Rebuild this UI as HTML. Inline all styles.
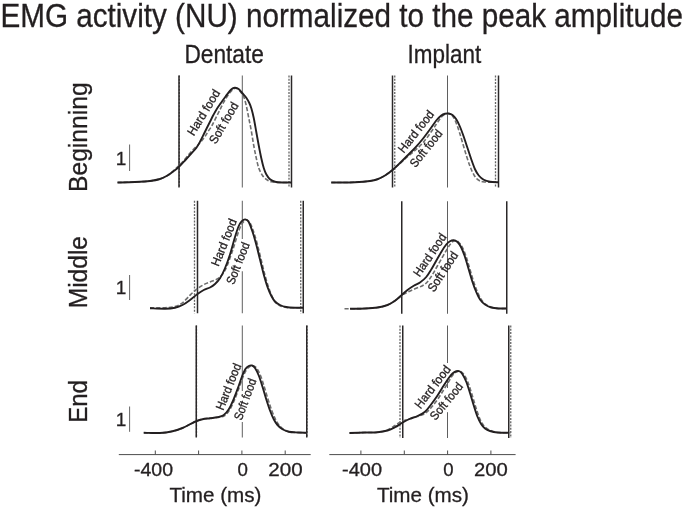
<!DOCTYPE html>
<html><head><meta charset="utf-8"><title>EMG activity</title>
<style>
html,body{margin:0;padding:0;background:#fff;}
body{width:685px;height:508px;overflow:hidden;}
svg{display:block;font-family:"Liberation Sans",sans-serif;will-change:transform;}
text{stroke:#231f20;stroke-width:0.3px;}
</style></head><body>
<svg width="685" height="508" viewBox="0 0 685 508">
<rect width="685" height="508" fill="#ffffff"/>
<text x="0.4" y="26.85" font-size="32.4" textLength="682.6" lengthAdjust="spacingAndGlyphs" fill="#231f20">EMG activity (NU) normalized to the peak amplitude</text>
<text x="184.4" y="63.0" font-size="25.8" textLength="79.5" lengthAdjust="spacingAndGlyphs" fill="#231f20">Dentate</text>
<text x="407.6" y="63.45" font-size="25.6" textLength="73.7" lengthAdjust="spacingAndGlyphs" fill="#231f20">Implant</text>
<text transform="translate(86.65,192.00) rotate(-90)" font-size="26" textLength="109.6" lengthAdjust="spacingAndGlyphs" fill="#231f20">Beginning</text>
<text transform="translate(86.65,308.30) rotate(-90)" font-size="26" textLength="72.3" lengthAdjust="spacingAndGlyphs" fill="#231f20">Middle</text>
<text transform="translate(86.65,422.80) rotate(-90)" font-size="26" textLength="42.8" lengthAdjust="spacingAndGlyphs" fill="#231f20">End</text>

<line x1="129.6" x2="129.6" y1="144.50" y2="171.00" stroke="#666" stroke-width="1"/>
<text x="115.7" y="164.60" font-size="19" fill="#231f20">1</text>
<line x1="129.6" x2="129.6" y1="275.00" y2="300.00" stroke="#666" stroke-width="1"/>
<text x="115.7" y="294.40" font-size="19" fill="#231f20">1</text>
<line x1="129.6" x2="129.6" y1="406.50" y2="431.80" stroke="#666" stroke-width="1"/>
<text x="115.7" y="425.60" font-size="19" fill="#231f20">1</text>

<g id="p1">
<line x1="242.30" x2="242.30" y1="75.50" y2="187.50" stroke="#4d4d4d" stroke-width="0.9"/>
<line x1="179.30" x2="179.30" y1="75.50" y2="187.50" stroke="#666" stroke-width="1.3" stroke-dasharray="2.0,1.3"/>
<line x1="289.00" x2="289.00" y1="75.50" y2="187.50" stroke="#666" stroke-width="1.3" stroke-dasharray="2.0,1.3"/>
<line x1="179.00" x2="179.00" y1="75.50" y2="187.50" stroke="#2b2829" stroke-width="1.5"/>
<line x1="291.50" x2="291.50" y1="75.50" y2="187.50" stroke="#2b2829" stroke-width="1.5"/>
<path d="M117.50,182.50 C120.42,182.42 129.58,182.25 135.00,182.00 C140.42,181.75 145.83,181.50 150.00,181.00 C154.17,180.50 157.08,179.92 160.00,179.00 C162.92,178.08 165.21,176.92 167.50,175.50 C169.79,174.08 171.83,172.17 173.75,170.50 C175.67,168.83 177.46,167.00 179.00,165.50 C180.54,164.00 181.38,163.33 183.00,161.50 C184.62,159.67 186.96,156.58 188.75,154.50 C190.54,152.42 192.21,150.58 193.75,149.00 C195.29,147.42 196.71,146.33 198.00,145.00 C199.29,143.67 200.33,142.42 201.50,141.00 C202.67,139.58 203.92,138.07 205.00,136.50 C206.08,134.93 206.87,133.37 208.00,131.60 C209.13,129.83 210.77,127.63 211.80,125.90 C212.83,124.17 213.20,123.18 214.20,121.20 C215.20,119.22 216.68,116.23 217.80,114.00 C218.92,111.77 219.88,109.82 220.90,107.80 C221.92,105.78 222.92,103.68 223.90,101.90 C224.88,100.12 225.78,98.67 226.80,97.10 C227.82,95.53 229.00,93.75 230.00,92.50 C231.00,91.25 231.92,90.30 232.80,89.60 C233.68,88.90 234.35,88.32 235.30,88.30 C236.25,88.28 237.42,88.63 238.50,89.50 C239.58,90.37 240.93,92.29 241.80,93.50 C242.68,94.71 243.01,94.75 243.75,96.75 C244.49,98.75 245.42,101.96 246.25,105.50 C247.08,109.04 247.92,113.83 248.75,118.00 C249.58,122.17 250.42,125.92 251.25,130.50 C252.08,135.08 252.92,140.92 253.75,145.50 C254.58,150.08 255.42,154.25 256.25,158.00 C257.08,161.75 257.71,165.08 258.75,168.00 C259.79,170.92 261.25,173.62 262.50,175.50 C263.75,177.38 264.79,178.21 266.25,179.25 C267.71,180.29 268.96,181.21 271.25,181.75 C273.54,182.29 277.04,182.38 280.00,182.50 C282.96,182.62 287.50,182.50 289.00,182.50" fill="none" stroke="#6e6e6e" stroke-width="1.6" stroke-dasharray="4.2,2"/>
<path d="M117.50,182.50 C120.42,182.42 129.58,182.25 135.00,182.00 C140.42,181.75 145.83,181.50 150.00,181.00 C154.17,180.50 157.08,179.92 160.00,179.00 C162.92,178.08 165.21,176.83 167.50,175.50 C169.79,174.17 171.83,172.46 173.75,171.00 C175.67,169.54 177.12,168.50 179.00,166.75 C180.88,165.00 182.96,162.71 185.00,160.50 C187.04,158.29 189.38,155.58 191.25,153.50 C193.12,151.42 194.79,149.96 196.25,148.00 C197.71,146.04 198.54,144.46 200.00,141.75 C201.46,139.04 203.33,135.08 205.00,131.75 C206.67,128.42 208.58,124.58 210.00,121.75 C211.42,118.92 212.37,116.94 213.50,114.80 C214.63,112.66 215.57,110.87 216.80,108.90 C218.03,106.93 219.43,105.07 220.90,103.00 C222.37,100.93 224.12,98.53 225.60,96.50 C227.08,94.47 228.62,92.15 229.80,90.80 C230.98,89.45 231.82,88.90 232.70,88.40 C233.58,87.90 234.12,87.70 235.10,87.80 C236.08,87.90 237.42,88.13 238.60,89.00 C239.78,89.87 240.92,91.55 242.20,93.00 C243.48,94.45 245.12,96.03 246.30,97.70 C247.48,99.37 248.45,101.20 249.30,103.00 C250.15,104.80 250.66,106.00 251.40,108.50 C252.14,111.00 252.94,114.12 253.75,118.00 C254.56,121.88 255.42,127.17 256.25,131.75 C257.08,136.33 257.92,141.12 258.75,145.50 C259.58,149.88 260.42,154.25 261.25,158.00 C262.08,161.75 262.92,165.29 263.75,168.00 C264.58,170.71 265.21,172.38 266.25,174.25 C267.29,176.12 268.54,178.00 270.00,179.25 C271.46,180.50 272.92,181.21 275.00,181.75 C277.08,182.29 279.75,182.38 282.50,182.50 C285.25,182.62 290.00,182.50 291.50,182.50" fill="none" stroke="#231f20" stroke-width="1.9" stroke-linejoin="round"/>
<text transform="translate(193.80,136.50) rotate(-58.5)" font-size="12.3" textLength="51.3" lengthAdjust="spacingAndGlyphs" fill="#231f20" stroke="#231f20" stroke-width="0.25">Hard food</text>
<text transform="translate(215.80,144.80) rotate(-59.8)" font-size="12.3" textLength="45.9" lengthAdjust="spacingAndGlyphs" fill="#231f20" stroke="#231f20" stroke-width="0.25">Soft food</text>
</g>
<g id="p2">
<line x1="447.50" x2="447.50" y1="75.50" y2="187.50" stroke="#4d4d4d" stroke-width="0.9"/>
<line x1="394.75" x2="394.75" y1="75.50" y2="187.50" stroke="#666" stroke-width="1.3" stroke-dasharray="2.0,1.3"/>
<line x1="495.50" x2="495.50" y1="75.50" y2="187.50" stroke="#666" stroke-width="1.3" stroke-dasharray="2.0,1.3"/>
<line x1="392.50" x2="392.50" y1="75.50" y2="187.50" stroke="#2b2829" stroke-width="1.5"/>
<line x1="498.50" x2="498.50" y1="75.50" y2="187.50" stroke="#2b2829" stroke-width="1.5"/>
<path d="M331.25,182.50 C332.71,182.50 336.04,182.54 340.00,182.50 C343.96,182.46 350.00,182.50 355.00,182.25 C360.00,182.00 366.25,181.50 370.00,181.00 C373.75,180.50 375.00,180.17 377.50,179.25 C380.00,178.33 382.50,177.04 385.00,175.50 C387.50,173.96 390.00,172.00 392.50,170.00 C395.00,168.00 397.50,165.71 400.00,163.50 C402.50,161.29 405.00,158.92 407.50,156.75 C410.00,154.58 412.50,152.75 415.00,150.50 C417.50,148.25 420.00,146.08 422.50,143.25 C425.00,140.42 427.71,136.67 430.00,133.50 C432.29,130.33 434.38,126.96 436.25,124.25 C438.12,121.54 439.79,118.92 441.25,117.25 C442.71,115.58 443.75,114.83 445.00,114.25 C446.25,113.67 447.58,113.58 448.75,113.75 C449.92,113.92 450.88,114.00 452.00,115.25 C453.12,116.50 454.29,118.50 455.50,121.25 C456.71,124.00 458.00,127.92 459.25,131.75 C460.50,135.58 461.75,140.08 463.00,144.25 C464.25,148.42 465.50,152.88 466.75,156.75 C468.00,160.62 469.25,164.38 470.50,167.50 C471.75,170.62 473.00,173.46 474.25,175.50 C475.50,177.54 476.54,178.71 478.00,179.75 C479.46,180.79 480.08,181.33 483.00,181.75 C485.92,182.17 493.42,182.17 495.50,182.25" fill="none" stroke="#6e6e6e" stroke-width="1.6" stroke-dasharray="4.2,2"/>
<path d="M331.25,182.50 C332.71,182.50 336.04,182.54 340.00,182.50 C343.96,182.46 350.00,182.50 355.00,182.25 C360.00,182.00 366.25,181.50 370.00,181.00 C373.75,180.50 375.00,180.17 377.50,179.25 C380.00,178.33 382.50,177.04 385.00,175.50 C387.50,173.96 390.00,172.08 392.50,170.00 C395.00,167.92 397.50,165.42 400.00,163.00 C402.50,160.58 405.00,158.00 407.50,155.50 C410.00,153.00 412.50,150.71 415.00,148.00 C417.50,145.29 420.00,142.38 422.50,139.25 C425.00,136.12 427.71,132.38 430.00,129.25 C432.29,126.12 434.38,122.79 436.25,120.50 C438.12,118.21 439.79,116.62 441.25,115.50 C442.71,114.38 443.75,114.08 445.00,113.75 C446.25,113.42 447.50,113.29 448.75,113.50 C450.00,113.71 451.25,114.04 452.50,115.00 C453.75,115.96 455.00,117.29 456.25,119.25 C457.50,121.21 458.75,123.83 460.00,126.75 C461.25,129.67 462.50,133.21 463.75,136.75 C465.00,140.29 466.25,144.25 467.50,148.00 C468.75,151.75 470.00,155.71 471.25,159.25 C472.50,162.79 473.75,166.54 475.00,169.25 C476.25,171.96 477.29,173.75 478.75,175.50 C480.21,177.25 481.88,178.71 483.75,179.75 C485.62,180.79 487.54,181.33 490.00,181.75 C492.46,182.17 497.08,182.17 498.50,182.25" fill="none" stroke="#231f20" stroke-width="1.9" stroke-linejoin="round"/>
<text transform="translate(403.80,153.70) rotate(-51.7)" font-size="12.3" textLength="50.0" lengthAdjust="spacingAndGlyphs" fill="#231f20" stroke="#231f20" stroke-width="0.25">Hard food</text>
<text transform="translate(415.50,168.20) rotate(-51.3)" font-size="12.3" textLength="44.1" lengthAdjust="spacingAndGlyphs" fill="#231f20" stroke="#231f20" stroke-width="0.25">Soft food</text>
</g>
<g id="p3">
<line x1="242.30" x2="242.30" y1="200.75" y2="239.00" stroke="#4d4d4d" stroke-width="0.9"/>
<line x1="242.30" x2="242.30" y1="271.25" y2="313.25" stroke="#4d4d4d" stroke-width="0.9"/>
<line x1="194.50" x2="194.50" y1="200.75" y2="313.25" stroke="#666" stroke-width="1.3" stroke-dasharray="2.0,1.3"/>
<line x1="300.75" x2="300.75" y1="200.75" y2="313.25" stroke="#666" stroke-width="1.3" stroke-dasharray="2.0,1.3"/>
<line x1="197.50" x2="197.50" y1="200.75" y2="313.25" stroke="#2b2829" stroke-width="1.5"/>
<line x1="303.25" x2="303.25" y1="200.75" y2="313.25" stroke="#2b2829" stroke-width="1.5"/>
<path d="M150.00,307.75 C152.50,307.75 160.83,307.96 165.00,307.75 C169.17,307.54 172.08,307.32 175.00,306.50 C177.92,305.68 180.00,304.68 182.50,302.80 C185.00,300.92 187.71,297.40 190.00,295.20 C192.29,293.00 193.96,291.37 196.25,289.60 C198.54,287.83 201.46,285.87 203.75,284.60 C206.04,283.33 207.92,282.85 210.00,282.00 C212.08,281.15 214.50,280.42 216.25,279.50 C218.00,278.58 219.24,277.67 220.50,276.50 C221.76,275.33 222.75,274.17 223.80,272.50 C224.85,270.83 225.80,268.83 226.80,266.50 C227.80,264.17 228.83,261.17 229.80,258.50 C230.77,255.83 231.73,253.08 232.60,250.50 C233.47,247.92 234.22,245.50 235.00,243.00 C235.78,240.50 236.52,237.92 237.30,235.50 C238.08,233.08 238.83,230.58 239.70,228.50 C240.57,226.42 241.45,224.42 242.50,223.00 C243.55,221.58 244.78,220.08 246.00,220.00 C247.22,219.92 248.52,220.50 249.80,222.50 C251.08,224.50 252.43,228.33 253.70,232.00 C254.97,235.67 256.17,239.92 257.40,244.50 C258.63,249.08 259.87,254.50 261.10,259.50 C262.33,264.50 263.60,270.00 264.80,274.50 C266.00,279.00 267.17,283.03 268.30,286.50 C269.43,289.97 270.48,292.75 271.60,295.30 C272.72,297.85 273.60,300.05 275.00,301.80 C276.40,303.55 278.08,304.85 280.00,305.80 C281.92,306.75 284.00,307.18 286.50,307.50 C289.00,307.82 292.62,307.71 295.00,307.75 C297.38,307.79 299.79,307.75 300.75,307.75" fill="none" stroke="#6e6e6e" stroke-width="1.6" stroke-dasharray="4.2,2"/>
<path d="M150.00,308.25 C152.50,308.33 160.83,308.83 165.00,308.75 C169.17,308.67 172.08,308.38 175.00,307.75 C177.92,307.12 180.00,306.29 182.50,305.00 C185.00,303.71 187.50,301.83 190.00,300.00 C192.50,298.17 195.21,295.67 197.50,294.00 C199.79,292.33 201.67,291.08 203.75,290.00 C205.83,288.92 208.12,288.50 210.00,287.50 C211.88,286.50 213.33,285.54 215.00,284.00 C216.67,282.46 218.33,280.88 220.00,278.25 C221.67,275.62 223.33,272.21 225.00,268.25 C226.67,264.29 228.33,259.71 230.00,254.50 C231.67,249.29 233.58,241.67 235.00,237.00 C236.42,232.33 237.40,229.10 238.50,226.50 C239.60,223.90 240.48,222.58 241.60,221.40 C242.72,220.22 244.03,219.33 245.20,219.40 C246.37,219.47 247.37,219.70 248.60,221.80 C249.83,223.90 251.32,228.22 252.60,232.00 C253.88,235.78 255.02,239.92 256.25,244.50 C257.48,249.08 258.75,254.50 260.00,259.50 C261.25,264.50 262.50,269.92 263.75,274.50 C265.00,279.08 266.25,283.46 267.50,287.00 C268.75,290.54 270.00,293.33 271.25,295.75 C272.50,298.17 273.54,299.96 275.00,301.50 C276.46,303.04 278.12,304.08 280.00,305.00 C281.88,305.92 283.75,306.54 286.25,307.00 C288.75,307.46 292.17,307.62 295.00,307.75 C297.83,307.88 301.88,307.75 303.25,307.75" fill="none" stroke="#231f20" stroke-width="1.9" stroke-linejoin="round"/>
<text transform="translate(218.60,267.10) rotate(-68.0)" font-size="12.3" textLength="49.7" lengthAdjust="spacingAndGlyphs" fill="#231f20" stroke="#231f20" stroke-width="0.25">Hard food</text>
<text transform="translate(233.80,285.30) rotate(-68.5)" font-size="12.3" textLength="44.0" lengthAdjust="spacingAndGlyphs" fill="#231f20" stroke="#231f20" stroke-width="0.25">Soft food</text>
</g>
<g id="p4">
<line x1="447.50" x2="447.50" y1="201.25" y2="313.75" stroke="#4d4d4d" stroke-width="0.9"/>
<line x1="401.75" x2="401.75" y1="201.25" y2="313.75" stroke="#2b2829" stroke-width="1.5"/>
<line x1="506.75" x2="506.75" y1="201.25" y2="313.75" stroke="#2b2829" stroke-width="1.5"/>
<path d="M344.50,308.75 C347.92,308.71 359.50,308.71 365.00,308.50 C370.50,308.29 373.75,308.08 377.50,307.50 C381.25,306.92 384.58,306.12 387.50,305.00 C390.42,303.88 392.62,302.33 395.00,300.75 C397.38,299.17 399.67,296.92 401.75,295.50 C403.83,294.08 405.29,293.38 407.50,292.25 C409.71,291.12 412.50,289.83 415.00,288.75 C417.50,287.67 420.42,286.92 422.50,285.75 C424.58,284.58 425.83,283.62 427.50,281.75 C429.17,279.88 430.83,277.17 432.50,274.50 C434.17,271.83 435.83,268.67 437.50,265.75 C439.17,262.83 440.92,259.75 442.50,257.00 C444.08,254.25 445.62,251.46 447.00,249.25 C448.38,247.04 449.54,245.17 450.75,243.75 C451.96,242.33 453.00,241.08 454.25,240.75 C455.50,240.42 456.88,240.62 458.25,241.75 C459.62,242.88 461.17,244.96 462.50,247.50 C463.83,250.04 465.00,253.33 466.25,257.00 C467.50,260.67 468.75,265.33 470.00,269.50 C471.25,273.67 472.50,278.25 473.75,282.00 C475.00,285.75 476.25,289.08 477.50,292.00 C478.75,294.92 479.79,297.38 481.25,299.50 C482.71,301.62 484.38,303.42 486.25,304.75 C488.12,306.08 490.42,306.88 492.50,307.50 C494.58,308.12 496.38,308.33 498.75,308.50 C501.12,308.67 505.42,308.50 506.75,308.50" fill="none" stroke="#6e6e6e" stroke-width="1.6" stroke-dasharray="4.2,2"/>
<path d="M350.00,308.75 C352.50,308.71 360.42,308.71 365.00,308.50 C369.58,308.29 373.75,308.08 377.50,307.50 C381.25,306.92 384.58,306.12 387.50,305.00 C390.42,303.88 392.62,302.42 395.00,300.75 C397.38,299.08 399.67,296.79 401.75,295.00 C403.83,293.21 405.50,291.54 407.50,290.00 C409.50,288.46 411.67,287.00 413.75,285.75 C415.83,284.50 417.92,283.96 420.00,282.50 C422.08,281.04 424.38,279.17 426.25,277.00 C428.12,274.83 429.58,272.21 431.25,269.50 C432.92,266.79 434.58,263.67 436.25,260.75 C437.92,257.83 439.58,254.71 441.25,252.00 C442.92,249.29 444.79,246.29 446.25,244.50 C447.71,242.71 448.75,241.96 450.00,241.25 C451.25,240.54 452.50,240.12 453.75,240.25 C455.00,240.38 456.25,240.79 457.50,242.00 C458.75,243.21 460.00,245.00 461.25,247.50 C462.50,250.00 463.75,253.33 465.00,257.00 C466.25,260.67 467.50,265.33 468.75,269.50 C470.00,273.67 471.25,278.25 472.50,282.00 C473.75,285.75 475.00,289.08 476.25,292.00 C477.50,294.92 478.54,297.42 480.00,299.50 C481.46,301.58 483.12,303.17 485.00,304.50 C486.88,305.83 488.96,306.83 491.25,307.50 C493.54,308.17 496.17,308.33 498.75,308.50 C501.33,308.67 505.42,308.50 506.75,308.50" fill="none" stroke="#231f20" stroke-width="1.9" stroke-linejoin="round"/>
<text transform="translate(419.59,277.54) rotate(-55.9)" font-size="12.3" textLength="49.0" lengthAdjust="spacingAndGlyphs" fill="#231f20" stroke="#231f20" stroke-width="0.25">Hard food</text>
<text transform="translate(433.91,292.81) rotate(-56.7)" font-size="12.3" textLength="45.3" lengthAdjust="spacingAndGlyphs" fill="#231f20" stroke="#231f20" stroke-width="0.25">Soft food</text>
</g>
<g id="p5">
<line x1="242.30" x2="242.30" y1="325.50" y2="391.00" stroke="#4d4d4d" stroke-width="0.9"/>
<line x1="242.30" x2="242.30" y1="422.00" y2="437.50" stroke="#4d4d4d" stroke-width="0.9"/>
<line x1="196.50" x2="196.50" y1="325.50" y2="437.50" stroke="#666" stroke-width="1.3" stroke-dasharray="2.0,1.3"/>
<line x1="307.00" x2="307.00" y1="325.50" y2="437.50" stroke="#666" stroke-width="1.3" stroke-dasharray="2.0,1.3"/>
<line x1="196.25" x2="196.25" y1="325.50" y2="437.50" stroke="#2b2829" stroke-width="1.5"/>
<line x1="306.75" x2="306.75" y1="325.50" y2="437.50" stroke="#2b2829" stroke-width="1.5"/>
<path d="M143.75,432.75 C146.46,432.79 155.21,433.25 160.00,433.00 C164.79,432.75 168.75,432.08 172.50,431.25 C176.25,430.42 179.58,429.17 182.50,428.00 C185.42,426.83 187.71,425.38 190.00,424.25 C192.29,423.12 194.17,422.08 196.25,421.25 C198.33,420.42 200.21,419.75 202.50,419.25 C204.79,418.75 207.50,418.58 210.00,418.25 C212.50,417.92 215.12,417.66 217.50,417.25 C219.88,416.84 222.25,417.07 224.30,415.80 C226.35,414.53 228.08,412.30 229.80,409.60 C231.52,406.90 233.00,403.35 234.60,399.60 C236.20,395.85 238.02,390.83 239.40,387.10 C240.78,383.37 241.75,380.05 242.90,377.20 C244.05,374.35 245.16,371.78 246.30,370.00 C247.44,368.22 248.68,367.21 249.75,366.50 C250.82,365.79 251.62,365.50 252.75,365.75 C253.88,366.00 255.21,366.38 256.50,368.00 C257.79,369.62 259.21,372.38 260.50,375.50 C261.79,378.62 263.00,382.79 264.25,386.75 C265.50,390.71 266.75,395.29 268.00,399.25 C269.25,403.21 270.50,407.17 271.75,410.50 C273.00,413.83 274.29,416.83 275.50,419.25 C276.71,421.67 277.67,423.33 279.00,425.00 C280.33,426.67 281.79,428.12 283.50,429.25 C285.21,430.38 286.92,431.21 289.25,431.75 C291.58,432.29 294.58,432.33 297.50,432.50 C300.42,432.67 305.21,432.71 306.75,432.75" fill="none" stroke="#6e6e6e" stroke-width="1.6" stroke-dasharray="4.2,2"/>
<path d="M143.75,432.75 C146.46,432.79 155.21,433.25 160.00,433.00 C164.79,432.75 168.75,432.08 172.50,431.25 C176.25,430.42 179.58,429.17 182.50,428.00 C185.42,426.83 187.71,425.38 190.00,424.25 C192.29,423.12 194.17,422.08 196.25,421.25 C198.33,420.42 200.21,419.75 202.50,419.25 C204.79,418.75 207.50,418.58 210.00,418.25 C212.50,417.92 215.25,417.74 217.50,417.25 C219.75,416.76 221.62,416.63 223.50,415.30 C225.38,413.97 227.12,411.93 228.80,409.25 C230.48,406.57 232.00,403.00 233.60,399.25 C235.20,395.50 237.02,390.50 238.40,386.75 C239.78,383.00 240.76,379.67 241.90,376.75 C243.04,373.83 244.11,371.04 245.25,369.25 C246.39,367.46 247.62,366.62 248.75,366.00 C249.88,365.38 250.96,365.17 252.00,365.50 C253.04,365.83 253.88,366.33 255.00,368.00 C256.12,369.67 257.50,372.38 258.75,375.50 C260.00,378.62 261.25,382.79 262.50,386.75 C263.75,390.71 265.00,395.29 266.25,399.25 C267.50,403.21 268.75,407.17 270.00,410.50 C271.25,413.83 272.50,416.83 273.75,419.25 C275.00,421.67 276.04,423.33 277.50,425.00 C278.96,426.67 280.62,428.12 282.50,429.25 C284.38,430.38 286.25,431.21 288.75,431.75 C291.25,432.29 294.50,432.33 297.50,432.50 C300.50,432.67 305.21,432.71 306.75,432.75" fill="none" stroke="#231f20" stroke-width="1.9" stroke-linejoin="round"/>
<text transform="translate(223.23,411.03) rotate(-68.1)" font-size="12.3" textLength="49.0" lengthAdjust="spacingAndGlyphs" fill="#231f20" stroke="#231f20" stroke-width="0.25">Hard food</text>
<text transform="translate(241.50,421.10) rotate(-69.5)" font-size="12.3" textLength="43.4" lengthAdjust="spacingAndGlyphs" fill="#231f20" stroke="#231f20" stroke-width="0.25">Soft food</text>
</g>
<g id="p6">
<line x1="447.50" x2="447.50" y1="325.50" y2="363.00" stroke="#4d4d4d" stroke-width="0.9"/>
<line x1="447.50" x2="447.50" y1="381.00" y2="388.00" stroke="#4d4d4d" stroke-width="0.9"/>
<line x1="447.50" x2="447.50" y1="412.20" y2="438.00" stroke="#4d4d4d" stroke-width="0.9"/>
<line x1="400.00" x2="400.00" y1="325.50" y2="438.00" stroke="#666" stroke-width="1.3" stroke-dasharray="2.0,1.3"/>
<line x1="510.75" x2="510.75" y1="325.50" y2="438.00" stroke="#666" stroke-width="1.3" stroke-dasharray="2.0,1.3"/>
<line x1="402.75" x2="402.75" y1="325.50" y2="438.00" stroke="#2b2829" stroke-width="1.5"/>
<line x1="508.75" x2="508.75" y1="325.50" y2="438.00" stroke="#2b2829" stroke-width="1.5"/>
<path d="M349.50,433.00 C352.08,432.92 360.33,432.62 365.00,432.50 C369.67,432.38 373.75,432.67 377.50,432.25 C381.25,431.83 384.58,431.12 387.50,430.00 C390.42,428.88 392.71,426.92 395.00,425.50 C397.29,424.08 398.75,422.62 401.25,421.50 C403.75,420.38 407.29,419.58 410.00,418.75 C412.71,417.92 415.00,417.38 417.50,416.50 C420.00,415.62 422.71,415.00 425.00,413.50 C427.29,412.00 429.17,409.83 431.25,407.50 C433.33,405.17 435.42,402.46 437.50,399.50 C439.58,396.54 441.88,392.75 443.75,389.75 C445.62,386.75 447.29,383.88 448.75,381.50 C450.21,379.12 451.25,377.08 452.50,375.50 C453.75,373.92 455.00,372.71 456.25,372.00 C457.50,371.29 458.75,370.88 460.00,371.25 C461.25,371.62 462.46,372.50 463.75,374.25 C465.04,376.00 466.46,378.62 467.75,381.75 C469.04,384.88 470.25,389.04 471.50,393.00 C472.75,396.96 474.00,401.54 475.25,405.50 C476.50,409.46 477.75,413.62 479.00,416.75 C480.25,419.88 481.46,422.29 482.75,424.25 C484.04,426.21 485.25,427.38 486.75,428.50 C488.25,429.62 489.75,430.33 491.75,431.00 C493.75,431.67 495.58,432.21 498.75,432.50 C501.92,432.79 508.75,432.71 510.75,432.75" fill="none" stroke="#6e6e6e" stroke-width="1.6" stroke-dasharray="4.2,2"/>
<path d="M349.50,433.00 C352.08,432.92 360.33,432.62 365.00,432.50 C369.67,432.38 373.75,432.58 377.50,432.25 C381.25,431.92 384.58,431.33 387.50,430.50 C390.42,429.67 392.46,428.58 395.00,427.25 C397.54,425.92 400.25,423.92 402.75,422.50 C405.25,421.08 407.54,419.83 410.00,418.75 C412.46,417.67 415.00,417.17 417.50,416.00 C420.00,414.83 422.71,413.71 425.00,411.75 C427.29,409.79 429.17,406.96 431.25,404.25 C433.33,401.54 435.42,398.62 437.50,395.50 C439.58,392.38 441.88,388.42 443.75,385.50 C445.62,382.58 447.29,380.00 448.75,378.00 C450.21,376.00 451.25,374.62 452.50,373.50 C453.75,372.38 455.08,371.62 456.25,371.25 C457.42,370.88 458.46,370.75 459.50,371.25 C460.54,371.75 461.38,372.50 462.50,374.25 C463.62,376.00 465.00,378.62 466.25,381.75 C467.50,384.88 468.75,389.04 470.00,393.00 C471.25,396.96 472.50,401.54 473.75,405.50 C475.00,409.46 476.25,413.62 477.50,416.75 C478.75,419.88 480.00,422.29 481.25,424.25 C482.50,426.21 483.54,427.38 485.00,428.50 C486.46,429.62 487.92,430.33 490.00,431.00 C492.08,431.67 494.38,432.21 497.50,432.50 C500.62,432.79 506.88,432.71 508.75,432.75" fill="none" stroke="#231f20" stroke-width="1.9" stroke-linejoin="round"/>
<text transform="translate(420.40,409.40) rotate(-52.2)" font-size="12.3" textLength="50.5" lengthAdjust="spacingAndGlyphs" fill="#231f20" stroke="#231f20" stroke-width="0.25">Hard food</text>
<text transform="translate(435.60,421.10) rotate(-50.7)" font-size="12.3" textLength="44.5" lengthAdjust="spacingAndGlyphs" fill="#231f20" stroke="#231f20" stroke-width="0.25">Soft food</text>
</g>
<line x1="118.80" x2="310.70" y1="454.6" y2="454.6" stroke="#4d4d4d" stroke-width="1"/>
<line x1="155.30" x2="155.30" y1="450.5" y2="454.6" stroke="#4d4d4d" stroke-width="1"/>
<line x1="198.60" x2="198.60" y1="450.5" y2="454.6" stroke="#4d4d4d" stroke-width="1"/>
<line x1="241.90" x2="241.90" y1="450.5" y2="454.6" stroke="#4d4d4d" stroke-width="1"/>
<line x1="285.20" x2="285.20" y1="450.5" y2="454.6" stroke="#4d4d4d" stroke-width="1"/>
<text x="134.00" y="476.1" font-size="18" textLength="39.0" lengthAdjust="spacingAndGlyphs" fill="#231f20">-400</text>
<text x="237.60" y="476.1" font-size="18" textLength="10.4" lengthAdjust="spacingAndGlyphs" fill="#231f20">0</text>
<text x="268.30" y="476.1" font-size="18" textLength="34.3" lengthAdjust="spacingAndGlyphs" fill="#231f20">200</text>
<text x="169.40" y="501.6" font-size="20.2" textLength="92" lengthAdjust="spacingAndGlyphs" fill="#231f20">Time (ms)</text>

<line x1="329.30" x2="515.60" y1="454.6" y2="454.6" stroke="#4d4d4d" stroke-width="1"/>
<line x1="360.90" x2="360.90" y1="450.5" y2="454.6" stroke="#4d4d4d" stroke-width="1"/>
<line x1="404.30" x2="404.30" y1="450.5" y2="454.6" stroke="#4d4d4d" stroke-width="1"/>
<line x1="447.60" x2="447.60" y1="450.5" y2="454.6" stroke="#4d4d4d" stroke-width="1"/>
<line x1="490.90" x2="490.90" y1="450.5" y2="454.6" stroke="#4d4d4d" stroke-width="1"/>
<text x="342.00" y="476.1" font-size="18" textLength="40.0" lengthAdjust="spacingAndGlyphs" fill="#231f20">-400</text>
<text x="443.30" y="476.1" font-size="18" textLength="10.3" lengthAdjust="spacingAndGlyphs" fill="#231f20">0</text>
<text x="473.90" y="476.1" font-size="18" textLength="33.8" lengthAdjust="spacingAndGlyphs" fill="#231f20">200</text>
<text x="376.90" y="501.6" font-size="20.2" textLength="92" lengthAdjust="spacingAndGlyphs" fill="#231f20">Time (ms)</text>

</svg>
</body></html>
